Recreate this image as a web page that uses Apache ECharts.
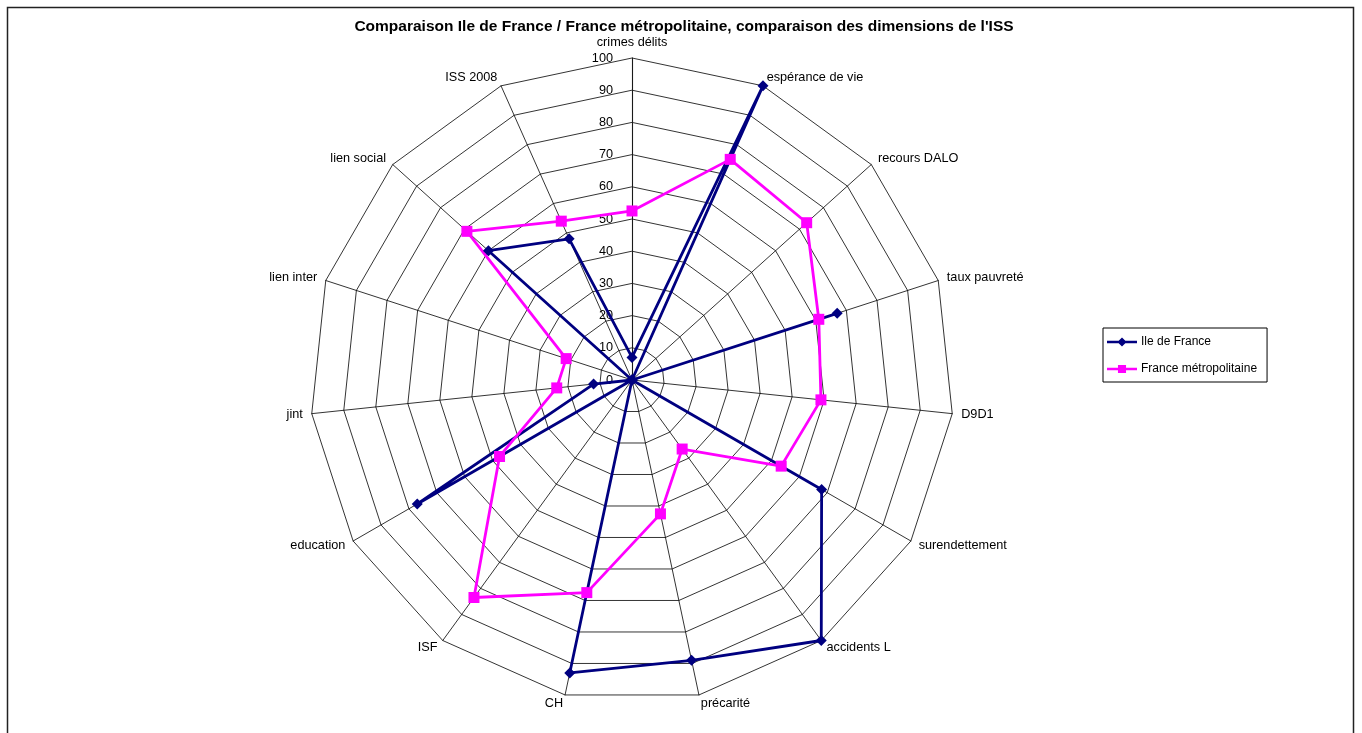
<!DOCTYPE html>
<html>
<head>
<meta charset="utf-8">
<script src="https://cdn.jsdelivr.net/npm/echarts@6/dist/echarts.min.js"></script>
<style>
html,body{margin:0;padding:0;background:#fff;}
#chart{width:1362px;height:733px;}
</style>
</head>
<body>
<div id="chart"></div>
<script>
const chartTitle = "Comparaison Ile de France / France métropolitaine, comparaison des dimensions de l'ISS";
const categories = ['crimes délits','espérance de vie','recours DALO','taux pauvreté','D9D1','surendettement','accidents L','précarité','CH','ISF','education','jint','lien inter','lien social','ISS 2008'];
const ileDeFrance = [7,100,0,67,0,68,100,89,93,0,77,12,0,60,48];
const franceMetro = [52.5,75,73,61,59,53.5,26.5,42.5,67.5,83.5,47.5,23.5,21.5,69,54];
const seriesNames = ['Ile de France','France métropolitaine'];
const axisMin = 0, axisMax = 100, axisStep = 10;

// ECharts radar places indicators counter-clockwise; reorder to get clockwise layout
function cw(arr){ return [arr[0]].concat(arr.slice(1).reverse()); }

const FONT = '"Liberation Sans", Arial, sans-serif';
const center = [632, 380];
const radius = 322;

const iconDiamond = 'path://M0,4H26V6H0Z M13,1L17,5L13,9L9,5Z';
const iconSquare = 'path://M0,4H26V6H0Z M9.5,1.5H16.5V8.5H9.5Z';

const chart = echarts.init(document.getElementById('chart'), null, {renderer:'canvas'});
chart.setOption({
  backgroundColor:'#fff',
  animation:false,
  title:{
    text: chartTitle, left: 679, top: 14, textAlign:'center',
    textStyle:{fontFamily:FONT, fontSize:15.5, fontWeight:'bold', color:'#000'}
  },
  legend:{
    orient:'vertical', left:1103, top:328,
    padding:[8,10,7,4],
    itemGap:15,
    itemWidth:30, itemHeight:12,
    borderColor:'#000', borderWidth:1,
    textStyle:{fontFamily:FONT, fontSize:12, color:'#000', padding:[0,0,0,-1]},
    data: [
      {name:seriesNames[0], icon:iconDiamond},
      {name:seriesNames[1], icon:iconSquare}
    ]
  },
  graphic:[{
    type:'rect', shape:{x:7.5,y:7.5,width:1346,height:740},
    style:{fill:'none', stroke:'#222', lineWidth:1.5}, silent:true
  }],
  radar:{
    center: center, radius: radius, startAngle:90, shape:'polygon', splitNumber:10,
    indicator: cw(categories).map(n => ({name:n, min:axisMin, max:axisMax})),
    axisName:{fontFamily:FONT, fontSize:12.7, color:'#000'},
    nameGap:9,
    axisLine:{lineStyle:{color:'#000', width:0.8}},
    splitLine:{lineStyle:{color:'#000', width:0.8}},
    splitArea:{show:false},
    axisTick:{show:false},
    axisLabel:{show:false}
  },
  polar:{center:center, radius:radius},
  angleAxis:{show:false, startAngle:90, min:0, max:360},
  radiusAxis:{
    min:axisMin, max:axisMax, interval:axisStep,
    axisLine:{show:true, lineStyle:{color:'#808080', width:1.2}},
    axisTick:{show:false},
    splitLine:{show:false},
    axisLabel:{fontFamily:FONT, fontSize:12.7, color:'#000', margin:19}
  },
  series:[{
    type:'radar',
    data:[
      {name:seriesNames[0], value:cw(ileDeFrance),
       symbol:'diamond', symbolSize:11,
       lineStyle:{color:'#000080', width:2.8},
       itemStyle:{color:'#000080'}},
      {name:seriesNames[1], value:cw(franceMetro),
       symbol:'rect', symbolSize:11,
       lineStyle:{color:'#FF00FF', width:2.8},
       itemStyle:{color:'#FF00FF'}}
    ]
  }]
});
</script>
</body>
</html>
